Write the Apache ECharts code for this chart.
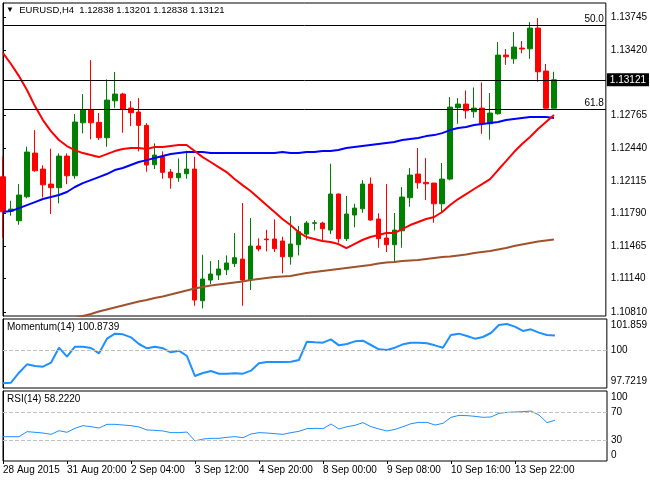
<!DOCTYPE html>
<html lang="en">
<head>
    <meta charset="UTF-8">
    <title>EURUSD H4</title>
    <script src="https://cdn.jsdelivr.net/npm/echarts@6/dist/echarts.min.js"></script>
    <style>
        html, body { margin: 0; padding: 0; background: #fff; }
        #main { width: 650px; height: 480px; }
    </style>
</head>
<body>
    <div id="main"></div>
    <script>
        // tick labels on the time axis (one every 8 bars)
        var dateLabels = ['28 Aug 2015', '31 Aug 20:00', '2 Sep 04:00', '3 Sep 12:00', '4 Sep 20:00',
                          '8 Sep 00:00', '9 Sep 08:00', '10 Sep 16:00', '13 Sep 22:00'];
        var priceTicks = [1.13745, 1.13420, 1.12765, 1.12440, 1.12115, 1.11790, 1.11465, 1.11140, 1.10810];

        var opens = [1.12155, 1.11813, 1.11717, 1.11956, 1.12391, 1.12232, 1.12082, 1.12046, 1.12361, 1.12165,
                     1.12693, 1.12826, 1.12697, 1.12544, 1.12912, 1.12979, 1.12839, 1.12800, 1.12667, 1.12275,
                     1.12354, 1.12202, 1.12145, 1.12185, 1.12232, 1.10920, 1.11126, 1.11176, 1.11229, 1.11290,
                     1.11335, 1.11126, 1.11465, 1.11535, 1.11535, 1.11515, 1.11358, 1.11478, 1.11584, 1.11691,
                     1.11694, 1.11624, 1.11983, 1.11538, 1.11774, 1.11836, 1.12082, 1.11734, 1.11545, 1.11478,
                     1.11617, 1.11946, 1.12182, 1.12099, 1.12092, 1.11886, 1.12132, 1.12843, 1.12879, 1.12803,
                     1.12839, 1.12683, 1.12783, 1.13367, 1.13330, 1.13437, 1.13430, 1.13636, 1.13208, 1.12838];
        var closes = [1.11806, 1.11833, 1.11973, 1.12401, 1.12215, 1.12075, 1.12046, 1.12361, 1.12165, 1.12700,
                      1.12819, 1.12693, 1.12544, 1.12919, 1.12979, 1.12826, 1.12793, 1.12667, 1.12272, 1.12371,
                      1.12199, 1.12145, 1.12189, 1.12232, 1.10927, 1.11136, 1.11186, 1.11236, 1.11296, 1.11349,
                      1.11126, 1.11465, 1.11435, 1.11528, 1.11438, 1.11358, 1.11485, 1.11607, 1.11694, 1.11697,
                      1.11637, 1.11983, 1.11538, 1.11784, 1.11843, 1.12082, 1.11724, 1.11538, 1.11478, 1.11624,
                      1.11953, 1.12172, 1.12095, 1.12085, 1.11886, 1.12132, 1.12849, 1.12879, 1.12813, 1.12839,
                      1.12683, 1.12790, 1.13367, 1.13350, 1.13447, 1.13427, 1.13636, 1.13201, 1.12838, 1.13121];
        var highs = [1.12354, 1.11916, 1.12082, 1.12454, 1.12620, 1.12269, 1.12434, 1.12388, 1.12388, 1.12780,
                     1.12979, 1.13317, 1.12790, 1.13125, 1.13198, 1.12992, 1.12909, 1.12939, 1.12690, 1.12488,
                     1.12408, 1.12232, 1.12338, 1.12414, 1.12354, 1.11378, 1.11315, 1.11325, 1.11372, 1.11594,
                     1.11893, 1.11744, 1.11542, 1.11627, 1.11731, 1.11558, 1.11764, 1.11664, 1.11714, 1.11724,
                     1.11707, 1.12285, 1.11990, 1.11963, 1.11886, 1.12122, 1.12149, 1.11791, 1.12082, 1.11794,
                     1.12052, 1.12242, 1.12441, 1.12341, 1.12095, 1.12292, 1.12949, 1.12939, 1.13015, 1.13045,
                     1.13095, 1.12989, 1.13497, 1.13427, 1.13596, 1.13507, 1.13696, 1.13736, 1.13278, 1.13201];
        var lows = [1.11545, 1.11767, 1.11677, 1.11940, 1.12205, 1.11950, 1.11784, 1.11890, 1.12082, 1.12135,
                    1.12587, 1.12528, 1.12521, 1.12454, 1.12842, 1.12593, 1.12660, 1.12408, 1.12205, 1.12232,
                    1.12135, 1.12036, 1.12105, 1.12135, 1.10870, 1.10844, 1.11086, 1.11126, 1.11176, 1.11256,
                    1.10870, 1.11027, 1.11412, 1.11412, 1.11405, 1.11193, 1.11279, 1.11372, 1.11528, 1.11621,
                    1.11518, 1.11584, 1.11498, 1.11515, 1.11651, 1.11797, 1.11717, 1.11448, 1.11405, 1.11299,
                    1.11448, 1.11856, 1.12036, 1.11923, 1.11697, 1.11803, 1.12119, 1.12683, 1.12733, 1.12743,
                    1.12583, 1.12524, 1.12773, 1.13270, 1.13280, 1.13385, 1.13330, 1.13102, 1.12830, 1.12838];

        // moving averages (red fast, blue medium, brown slow)
        var maFast = [1.13387, 1.13278, 1.13158, 1.13019, 1.12859, 1.12720, 1.12610, 1.12521, 1.12461, 1.12421,
                      1.12391, 1.12371, 1.12351, 1.12381, 1.12411, 1.12431, 1.12441, 1.12441, 1.12431, 1.12451,
                      1.12451, 1.12461, 1.12471, 1.12471, 1.12411, 1.12351, 1.12302, 1.12252, 1.12202, 1.12132,
                      1.12072, 1.12013, 1.11943, 1.11873, 1.11804, 1.11734, 1.11674, 1.11604, 1.11555, 1.11535,
                      1.11515, 1.11505, 1.11485, 1.11445, 1.11485, 1.11525, 1.11555, 1.11574, 1.11594, 1.11594,
                      1.11634, 1.11674, 1.11704, 1.11734, 1.11754, 1.11804, 1.11873, 1.11933, 1.11983, 1.12033,
                      1.12082, 1.12132, 1.12222, 1.12311, 1.12401, 1.12481, 1.12551, 1.12630, 1.12700, 1.12770];
        var maMid = [1.11804, 1.11813, 1.11843, 1.11873, 1.11903, 1.11933, 1.11953, 1.11973, 1.12003, 1.12053,
                     1.12092, 1.12122, 1.12152, 1.12182, 1.12222, 1.12242, 1.12272, 1.12302, 1.12321, 1.12341,
                     1.12361, 1.12381, 1.12391, 1.12401, 1.12401, 1.12401, 1.12391, 1.12391, 1.12391, 1.12391,
                     1.12391, 1.12391, 1.12391, 1.12391, 1.12391, 1.12401, 1.12391, 1.12391, 1.12401, 1.12401,
                     1.12411, 1.12411, 1.12421, 1.12441, 1.12451, 1.12461, 1.12471, 1.12481, 1.12491, 1.12501,
                     1.12521, 1.12531, 1.12541, 1.12560, 1.12570, 1.12590, 1.12620, 1.12640, 1.12650, 1.12670,
                     1.12680, 1.12690, 1.12700, 1.12720, 1.12730, 1.12740, 1.12750, 1.12750, 1.12750, 1.12740];
        var maSlow = [1.10568, 1.10588, 1.10608, 1.10628, 1.10648, 1.10668, 1.10688, 1.10708, 1.10728, 1.10748,
                      1.10768, 1.10788, 1.10813, 1.10832, 1.10852, 1.10872, 1.10892, 1.10912, 1.10927, 1.10947,
                      1.10962, 1.10982, 1.11002, 1.11022, 1.11042, 1.11057, 1.11071, 1.11081, 1.11091, 1.11101,
                      1.11111, 1.11126, 1.11136, 1.11146, 1.11156, 1.11161, 1.11166, 1.11181, 1.11196, 1.11206,
                      1.11216, 1.11226, 1.11236, 1.11246, 1.11256, 1.11266, 1.11276, 1.11291, 1.11301, 1.11306,
                      1.11315, 1.11320, 1.11325, 1.11335, 1.11345, 1.11355, 1.11360, 1.11370, 1.11380, 1.11395,
                      1.11405, 1.11415, 1.11430, 1.11445, 1.11465, 1.11480, 1.11495, 1.11510, 1.11520, 1.11530];

        // horizontal levels: fibo 50.0 / 61.8 and the current bid
        var fibLevels = [{ name: '50.0', value: 1.13660 }, { name: '61.8', value: 1.12830 }];
        var lastPrice = 1.13121;

        var momentum = [98.00, 98.04, 98.64, 99.14, 99.04, 99.00, 99.24, 100.14, 99.60, 100.20,
                        100.20, 100.12, 99.80, 100.68, 100.98, 100.94, 100.76, 100.36, 100.10, 100.20,
                        100.10, 99.86, 99.96, 99.64, 98.44, 98.62, 98.74, 98.58, 98.58, 98.60,
                        98.58, 98.76, 99.20, 99.28, 99.28, 99.28, 99.30, 99.40, 100.50, 100.46,
                        100.44, 100.64, 100.28, 100.36, 100.52, 100.56, 100.30, 100.04, 100.00, 100.14,
                        100.34, 100.44, 100.44, 100.40, 100.28, 100.14, 100.90, 100.98, 100.84, 100.68,
                        100.78, 101.02, 101.50, 101.56, 101.40, 101.14, 101.24, 101.04, 100.90, 100.8739];
        var rsi = [34.7, 34.7, 34.7, 41.9, 41.0, 40.0, 38.1, 43.3, 41.0, 46.7,
                   50.5, 49.0, 47.1, 52.4, 52.4, 51.4, 50.5, 48.6, 44.3, 43.8,
                   42.9, 40.5, 40.5, 41.4, 28.6, 31.4, 32.4, 32.4, 33.8, 34.8,
                   33.3, 38.6, 40.5, 40.0, 39.0, 38.1, 40.5, 42.4, 46.2, 46.7,
                   46.2, 52.9, 45.7, 49.0, 51.0, 54.8, 49.0, 45.7, 42.9, 45.2,
                   49.0, 53.3, 55.2, 55.2, 51.4, 53.8, 62.4, 65.2, 64.8, 63.8,
                   62.4, 62.9, 68.1, 69.5, 70.0, 70.5, 71.4, 65.7, 54.8, 58.222];

        var FONT = 'Liberation Sans';
        var X_MAX = 75.5;
        var chart = echarts.init(document.getElementById('main'), null, { renderer: 'canvas' });

        var candles = opens.map(function (o, i) { return [i, o, closes[i], lows[i], highs[i]]; });
        function pairs(arr) { return arr.map(function (v, i) { return [i, v]; }); }
        var labelPos = dateLabels.map(function (d, i) { return i * 8; });

        var gridBox = { left: 3, width: 604, show: true, borderColor: '#000', borderWidth: 1, backgroundColor: '#fff' };
        function hiddenX(idx) {
            return { type: 'value', gridIndex: idx, min: 0, max: X_MAX, show: false };
        }
        var axisText = { color: '#000', fontFamily: FONT, fontSize: 10 };

        // coord pairs so the level is not rounded to the axis precision
        function hLine(v, label) {
            return [{ coord: [0, v], label: label }, { coord: [X_MAX, v] }];
        }
        var levelLines = fibLevels.map(function (f) {
            return hLine(f.value, { formatter: f.name, position: 'insideEndTop', distance: [2, 1] });
        });
        levelLines.push(hLine(lastPrice, { formatter: lastPrice.toFixed(5), position: 'end', distance: 1,
            color: '#fff', backgroundColor: '#000', padding: [2, 3, 1, 3] }));

        var option = {
            animation: false,
            backgroundColor: '#fff',
            title: [
                { text: '{t|▼}  EURUSD,H4  1.12838 1.13201 1.12838 1.13121', left: 6, top: 5, padding: 0,
                  textStyle: { fontFamily: FONT, fontSize: 9.5, fontWeight: 'normal', color: '#000',
                               rich: { t: { fontSize: 8, color: '#000' } } } },
                { text: 'Momentum(14) 100.8739', left: 7, top: 322, padding: 0,
                  textStyle: { fontFamily: FONT, fontSize: 10, fontWeight: 'normal', color: '#000' } },
                { text: 'RSI(14) 58.2220', left: 7, top: 394, padding: 0,
                  textStyle: { fontFamily: FONT, fontSize: 10, fontWeight: 'normal', color: '#000' } }
            ],
            grid: [
                Object.assign({ top: 3, height: 313 }, gridBox),
                Object.assign({ top: 319, height: 69 }, gridBox),
                Object.assign({ top: 391, height: 70 }, gridBox)
            ],
            xAxis: [
                hiddenX(0),
                hiddenX(1),
                {
                    type: 'value', gridIndex: 2, min: 0, max: X_MAX,
                    axisLine: { show: false },
                    splitLine: { show: false },
                    axisTick: { show: true, customValues: labelPos, length: 3, lineStyle: { color: '#000' } },
                    axisLabel: {
                        customValues: labelPos, align: 'left', margin: 4,
                        color: '#000', fontFamily: FONT, fontSize: 10,
                        formatter: function (v) { return dateLabels[Math.round(v / 8)] || ''; }
                    }
                }
            ],
            yAxis: [
                {
                    type: 'value', gridIndex: 0, position: 'right', min: 1.10768, max: 1.13886,
                    axisLine: { show: true, lineStyle: { color: '#000' } },
                    splitLine: { show: false },
                    axisTick: { show: true, customValues: priceTicks, length: 3, lineStyle: { color: '#000' } },
                    axisLabel: Object.assign({ customValues: priceTicks, margin: 5,
                        formatter: function (v) { return v.toFixed(5); } }, axisText)
                },
                {
                    type: 'value', gridIndex: 1, position: 'right', min: 97.7219, max: 101.859,
                    axisLine: { show: true, lineStyle: { color: '#000' } },
                    splitLine: { show: false },
                    axisTick: { show: true, customValues: [100], length: 3, lineStyle: { color: '#000' } },
                    axisLabel: Object.assign({ customValues: [98.142, 100, 101.499], margin: 4,
                        formatter: function (v) { return v > 101 ? '101.859' : (v < 99 ? '97.7219' : '100'); } }, axisText)
                },
                {
                    type: 'value', gridIndex: 2, position: 'right', min: 0, max: 100,
                    axisLine: { show: true, lineStyle: { color: '#000' } },
                    splitLine: { show: false },
                    axisTick: { show: true, customValues: [30, 70], length: 3, lineStyle: { color: '#000' } },
                    axisLabel: Object.assign({ customValues: [8.6, 30, 70, 91.4], margin: 4,
                        formatter: function (v) { return v > 80 ? '100' : (v < 20 ? '0' : String(v)); } }, axisText)
                }
            ],
            series: [
                {
                    type: 'candlestick', xAxisIndex: 0, yAxisIndex: 0,
                    data: candles, encode: { x: 0, y: [1, 2, 3, 4] },
                    barWidth: 5,
                    itemStyle: { color: '#008000', color0: '#ff0000', borderColor: '#008000', borderColor0: '#ff0000', borderWidth: 1 }
                },
                { type: 'line', xAxisIndex: 0, yAxisIndex: 0, data: pairs(maSlow), symbol: 'none', z: 3,
                  lineStyle: { color: '#a0522d', width: 2 },
                  markLine: {
                      silent: true, symbol: ['none', 'none'], precision: 5,
                      lineStyle: { color: '#000', width: 1, type: 'solid' },
                      label: { color: '#000', fontFamily: FONT, fontSize: 10 },
                      data: levelLines
                  } },
                { type: 'line', xAxisIndex: 0, yAxisIndex: 0, data: pairs(maMid), symbol: 'none', z: 3,
                  lineStyle: { color: '#0000ff', width: 2 } },
                { type: 'line', xAxisIndex: 0, yAxisIndex: 0, data: pairs(maFast), symbol: 'none', z: 3,
                  lineStyle: { color: '#ff0000', width: 2 } },
                {
                    type: 'line', xAxisIndex: 1, yAxisIndex: 1, data: pairs(momentum), symbol: 'none',
                    lineStyle: { color: '#1e90ff', width: 2 },
                    markLine: { silent: true, symbol: ['none', 'none'], label: { show: false },
                        lineStyle: { color: '#c0c0c0', width: 1, type: 'dashed' }, data: [{ yAxis: 100 }] }
                },
                {
                    type: 'line', xAxisIndex: 2, yAxisIndex: 2, data: pairs(rsi), symbol: 'none',
                    lineStyle: { color: '#1e90ff', width: 1 },
                    markLine: { silent: true, symbol: ['none', 'none'], label: { show: false },
                        lineStyle: { color: '#c0c0c0', width: 1, type: 'dashed' }, data: [{ yAxis: 70 }, { yAxis: 30 }] }
                }
            ]
        };

        chart.setOption(option);
    </script>
</body>
</html>
